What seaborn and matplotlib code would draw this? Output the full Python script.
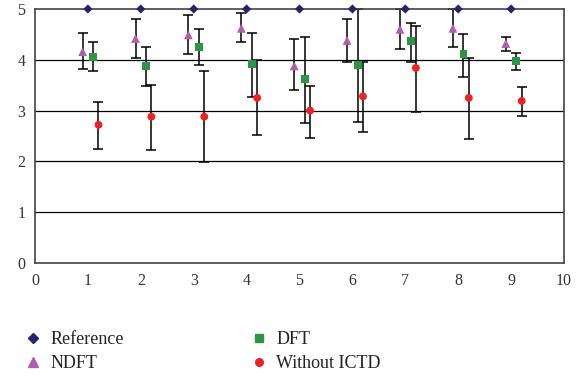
import numpy as np
import pandas as pd
import matplotlib
matplotlib.use('Agg')
import matplotlib.pyplot as plt
import seaborn as sns

# data
x_pos = [1, 2, 3, 4, 5, 6, 7, 8, 9]
reference = [5, 5, 5, 5, 5, 5, 5, 5, 5]

ndft = [4.16, 4.42, 4.49, 4.62, 3.88, 4.38, 4.60, 4.62, 4.32]
ndft_hi = [4.52, 4.80, 4.88, 4.92, 4.40, 4.80, 5.00, 5.00, 4.45]
ndft_lo = [3.81, 4.04, 4.12, 4.36, 3.41, 3.96, 4.21, 4.25, 4.18]

dft = [4.06, 3.88, 4.26, 3.91, 3.62, 3.90, 4.37, 4.11, 3.97]
dft_hi = [4.36, 4.25, 4.60, 4.53, 4.45, 5.00, 4.73, 4.51, 4.14]
dft_lo = [3.77, 3.49, 3.89, 3.27, 2.76, 2.78, 3.96, 3.67, 3.79]

wo = [2.72, 2.88, 2.88, 3.25, 3.00, 3.28, 3.84, 3.25, 3.19]
wo_hi = [3.16, 3.50, 3.77, 4.00, 3.49, 3.96, 4.67, 4.04, 3.47]
wo_lo = [2.25, 2.22, 1.99, 2.51, 2.47, 2.58, 2.98, 2.45, 2.89]

series = ['Reference', 'NDFT', 'DFT', 'Without ICTD']
shift = {'Reference': 0.0, 'NDFT': -0.1, 'DFT': 0.1, 'Without ICTD': 0.2}
colors = {'Reference': '#24246e', 'NDFT': '#b25cb0', 'DFT': '#2f9443', 'Without ICTD': '#ee2222'}
markers = {'Reference': 'D', 'NDFT': '^', 'DFT': 's', 'Without ICTD': 'o'}
sizes = {'Reference': 22, 'NDFT': 40, 'DFT': 32, 'Without ICTD': 32}

vals = {'Reference': reference, 'NDFT': ndft, 'DFT': dft, 'Without ICTD': wo}
errs = {'NDFT': (ndft_lo, ndft_hi), 'DFT': (dft_lo, dft_hi), 'Without ICTD': (wo_lo, wo_hi)}

rows = []
for s in series:
    for xi, v in zip(x_pos, vals[s]):
        rows.append({'x': xi + shift[s], 'y': v, 'series': s})
df = pd.DataFrame(rows)

sns.set_style('white')
plt.rcParams['font.family'] = ['Liberation Serif', 'DejaVu Serif']

fig = plt.figure(figsize=(5.87, 3.81), dpi=100)
ax = fig.add_axes([35 / 587, 1 - 263 / 381, (564 - 35) / 587, (263 - 9) / 381])

for gy in [1, 2, 3, 4]:
    ax.axhline(gy, color='black', lw=0.9, zorder=0)

# error bars first so markers sit on top
for s in ['NDFT', 'DFT', 'Without ICTD']:
    lo, hi = errs[s]
    y = np.array(vals[s])
    xs = np.array(x_pos) + shift[s]
    eb = ax.errorbar(xs, y, yerr=[y - np.array(lo), np.array(hi) - y], fmt='none',
                     ecolor='black', elinewidth=1.1, capsize=3.5, capthick=1.1, zorder=2)
    for art in eb.lines[1] + eb.lines[2]:
        art.set_clip_on(False)

for s in series:
    d = df[df['series'] == s]
    sns.scatterplot(data=d, x='x', y='y', ax=ax, marker=markers[s], color=colors[s],
                    s=sizes[s], edgecolor='none', zorder=3, legend=False, clip_on=False)

ax.set_xlim(0, 10)
ax.set_ylim(0, 5)
ax.set_xticks(range(0, 11))
ax.set_yticks(range(0, 6))
ax.set_xlabel('')
ax.set_ylabel('')
ax.tick_params(axis='both', labelsize=11.5, colors='#333333', length=4)
ax.tick_params(axis='x', direction='in', pad=7)
ax.tick_params(axis='y', direction='out', pad=3)
for sp in ax.spines.values():
    sp.set_color('#444444')
    sp.set_linewidth(1.2)

handles = [plt.Line2D([], [], ls='none', marker=markers[s], color=colors[s],
                      markersize={'Reference': 5, 'NDFT': 6.5, 'DFT': 5.5, 'Without ICTD': 5.5}[s])
           for s in series]
fig.legend(handles, series, ncol=2, loc='upper left', bbox_to_anchor=(8 / 587, 1 - 315 / 381),
           frameon=False, fontsize=13, handlelength=1, handletextpad=0.45,
           columnspacing=7.0, labelspacing=0.38, labelcolor='#222222')

fig.savefig('out.png', dpi=100)
